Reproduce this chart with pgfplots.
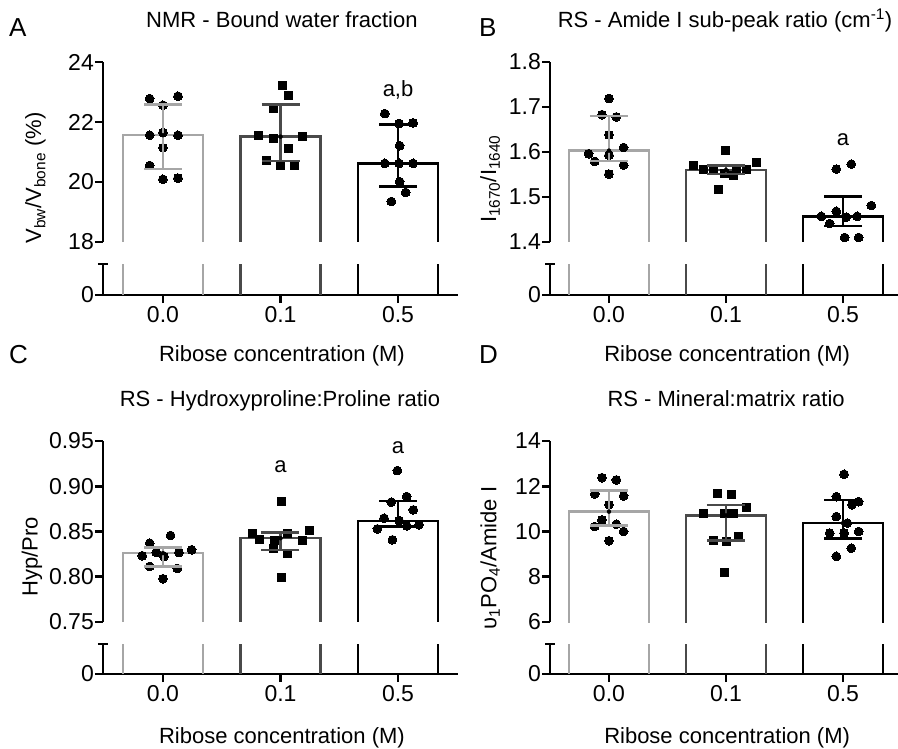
\documentclass[border=0pt]{standalone}
\usepackage{fontspec}
\setmainfont{Liberation Sans}
\usepackage{pgfplots}
\pgfplotsset{compat=1.18}

\definecolor{gA}{HTML}{A6A6A6}
\definecolor{gB}{HTML}{4A4A4A}
\definecolor{gC}{HTML}{000000}

\newcommand\lab{\fontsize{22}{26}\selectfont}
\newcommand\tlab{\fontsize{23}{26}\selectfont}

\pgfplotsset{
  common/.style={scale only axis, anchor=south west, clip mode=individual,
    /pgf/number format/assume math mode=true,
    axis line style={line width=2.6pt, black},
    tick style={line width=2.6pt, black},
    major tick length=8pt, tick align=outside,
    ticklabel style={font=\tlab},
    yticklabel style={inner xsep=1pt},
    label style={font=\lab},
    title style={font=\lab}},
  upper/.style={common, axis x line=none, axis y line*=left, xtick=\empty},
  lower/.style={common, axis x line*=bottom, axis y line*=left, ymin=0,
    ytick={0}, yticklabels={0}, xtick={0,1,2}, xticklabels={0.0,0.1,0.5},
    extra y tick labels={},
    extra y tick style={tick align=center, major tick length=10pt}},
  mybar/.style={draw=#1, line width=2.5pt, mark=none, line join=miter, forget plot},
  mypc/.style={only marks, mark=*, mark size=4.4pt, black, mark options={fill=black, draw=black, line width=0pt}, forget plot},
  myps/.style={only marks, mark=square*, mark size=4pt, black, mark options={fill=black, draw=black, line width=0pt}, forget plot},
  myeb/.style={only marks, mark=none, forget plot, error bars/.cd, y dir=both, y explicit,
    error bar style={line width=2.5pt, draw=#1},
    error mark options={rotate=90, mark size=19pt, line width=2.5pt, draw=#1}},
}

% bar outlines (open at the base, which lies at y = 0)
\newcommand\barsA{%
\addplot[mybar=gA] coordinates {(-0.34,0) (-0.34,21.56) (0.34,21.56) (0.34,0)};
\addplot[mybar=gB] coordinates {(0.66,0) (0.66,21.51) (1.34,21.51) (1.34,0)};
\addplot[mybar=gC] coordinates {(1.66,0) (1.66,20.62) (2.34,20.62) (2.34,0)};}
\newcommand\barsB{%
\addplot[mybar=gA] coordinates {(-0.34,0) (-0.34,1.603) (0.34,1.603) (0.34,0)};
\addplot[mybar=gB] coordinates {(0.66,0) (0.66,1.560) (1.34,1.560) (1.34,0)};
\addplot[mybar=gC] coordinates {(1.66,0) (1.66,1.457) (2.34,1.457) (2.34,0)};}
\newcommand\barsC{%
\addplot[mybar=gA] coordinates {(-0.34,0) (-0.34,0.8261) (0.34,0.8261) (0.34,0)};
\addplot[mybar=gB] coordinates {(0.66,0) (0.66,0.8426) (1.34,0.8426) (1.34,0)};
\addplot[mybar=gC] coordinates {(1.66,0) (1.66,0.8618) (2.34,0.8618) (2.34,0)};}
\newcommand\barsD{%
\addplot[mybar=gA] coordinates {(-0.34,0) (-0.34,10.88) (0.34,10.88) (0.34,0)};
\addplot[mybar=gB] coordinates {(0.66,0) (0.66,10.71) (1.34,10.71) (1.34,0)};
\addplot[mybar=gC] coordinates {(1.66,0) (1.66,10.37) (2.34,10.37) (2.34,0)};}

\begin{document}
\begin{tikzpicture}
\path[use as bounding box] (0pt,0pt) rectangle (898pt,-749pt);

\node[anchor=base west, inner sep=0pt, font=\fontsize{26}{28}\selectfont] at (9pt,-37pt) {A};
\node[anchor=base west, inner sep=0pt, font=\fontsize{26}{28}\selectfont] at (479pt,-37pt) {B};
\node[anchor=base west, inner sep=0pt, font=\fontsize{26}{28}\selectfont] at (9pt,-363pt) {C};
\node[anchor=base west, inner sep=0pt, font=\fontsize{26}{28}\selectfont] at (479pt,-363pt) {D};

% ---------------- Panel A ----------------
\begin{axis}[upper, at={(103pt,-242pt)}, width=355pt, height=180pt,
  xmin=-0.51, xmax=2.51, ymin=18, ymax=24,
  ytick={18,20,22,24}, yticklabels={18,20,22,24},
  ylabel={V\textsubscript{bw}/V\textsubscript{bone} (\%)},
  ylabel style={at={(axis description cs:-0.19,0.356)}, anchor=center},
  title={NMR - Bound water fraction},
  title style={at={(axis description cs:0.504,1.161)}, anchor=base}]
\barsA
\addplot[mypc] coordinates {(-0.113,22.78) (0.128,22.86) (0,22.56) (-0.113,21.56) (0,21.65) (0.128,21.56) (0,21.14) (-0.113,20.55) (0,20.09) (0.128,20.13)};
\addplot[myps] coordinates {(1.014,23.20) (1.071,22.87) (0.94,22.45) (0.816,21.56) (0.94,21.45) (1.184,21.53) (1.065,21.10) (0.878,20.73) (1.0,20.55) (1.119,20.55)};
\addplot[mypc] coordinates {(1.887,22.28) (2.009,21.95) (2.128,21.97) (2.014,21.21) (1.887,20.62) (2.009,20.62) (2.128,20.62) (2.014,20.01) (2.065,19.65) (1.943,19.35)};
\addplot[myeb=gA] coordinates {(0,21.56) += (0,1.02) -= (0,1.12)};
\addplot[myeb=gB] coordinates {(1,21.51) += (0,1.07) -= (0,0.81)};
\addplot[myeb=gC] coordinates {(2,20.62) += (0,1.30) -= (0,0.77)};
\node[anchor=base, font=\lab] at (axis cs:2,22.84) {a,b};
\end{axis}
\begin{axis}[lower, at={(103pt,-295pt)}, width=355pt, height=31pt,
  xmin=-0.51, xmax=2.51, ymax=2, extra y ticks={2},
  xlabel={Ribose concentration (M)},
  xlabel style={at={(axis description cs:0.504,-2.13)}, anchor=base}]
\barsA
\end{axis}

% ---------------- Panel B ----------------
\begin{axis}[upper, at={(550pt,-242pt)}, width=348pt, height=180pt,
  xmin=-0.504, xmax=2.47, ymin=1.4, ymax=1.8,
  ytick={1.4,1.5,1.6,1.7,1.8}, yticklabels={1.4,1.5,1.6,1.7,1.8},
  ylabel={I\textsubscript{1670}/I\textsubscript{1640}},
  ylabel style={at={(axis description cs:-0.172,0.35)}, anchor=center},
  title={RS - Amide I sub-peak ratio (cm\textsuperscript{-1})},
  title style={at={(axis description cs:0.503,1.161)}, anchor=base}]
\barsB
\addplot[mypc] coordinates {(0,1.719) (-0.06,1.683) (0.063,1.678) (0,1.638) (-0.174,1.596) (-0.122,1.579) (0,1.593) (0.125,1.610) (0.125,1.571) (0,1.551)};
\addplot[myps] coordinates {(1,1.603) (0.721,1.570) (1.262,1.577) (0.806,1.560) (0.892,1.560) (0.991,1.553) (1.063,1.547) (1.177,1.560) (0.934,1.516) (1.091,1.564)};
\addplot[mypc] coordinates {(1.943,1.562) (2.071,1.573) (2.242,1.481) (1.815,1.457) (1.943,1.468) (2.028,1.455) (2.122,1.457) (1.886,1.441) (2.014,1.410) (2.134,1.410)};
\addplot[myeb=gA] coordinates {(0,1.603) += (0,0.077) -= (0,0.023)};
\addplot[myeb=gB] coordinates {(1,1.560) += (0,0.010) -= (0,0.009)};
\addplot[myeb=gC] coordinates {(2,1.457) += (0,0.044) -= (0,0.022)};
\node[anchor=base, font=\lab] at (axis cs:2,1.614) {a};
\end{axis}
\begin{axis}[lower, at={(550pt,-295pt)}, width=348pt, height=31pt,
  xmin=-0.504, xmax=2.47, ymax=0.2, extra y ticks={0.2},
  xlabel={Ribose concentration (M)},
  xlabel style={at={(axis description cs:0.509,-2.13)}, anchor=base}]
\barsB
\end{axis}

% ---------------- Panel C ----------------
\begin{axis}[upper, at={(103pt,-622pt)}, width=355pt, height=181pt,
  xmin=-0.51, xmax=2.51, ymin=0.75, ymax=0.95,
  ytick={0.75,0.80,0.85,0.90,0.95}, yticklabels={0.75,0.80,0.85,0.90,0.95},
  ylabel={Hyp/Pro},
  ylabel style={at={(axis description cs:-0.2,0.36)}, anchor=center},
  title={RS - Hydroxyproline:Proline ratio},
  title style={at={(axis description cs:0.4986,1.16)}, anchor=base}]
\barsC
\addplot[mypc] coordinates {(0.065,0.8456) (-0.113,0.8371) (0.244,0.8298) (0.136,0.8268) (-0.057,0.8268) (-0.176,0.8232) (0.009,0.8224) (-0.113,0.8114) (0.122,0.8092) (0,0.7978)};
\addplot[myps] coordinates {(1.009,0.8831) (0.765,0.8482) (1.25,0.8511) (0.824,0.8415) (0.952,0.8401) (1.062,0.8482) (1.184,0.8401) (0.943,0.8316) (1.057,0.8254) (1.009,0.7996)};
\addplot[mypc] coordinates {(1.994,0.9173) (2.074,0.8886) (1.943,0.8824) (2.13,0.8739) (1.881,0.8647) (2.009,0.8621) (1.824,0.8529) (2.179,0.8574) (2.074,0.8563) (1.952,0.8408)};
\addplot[myeb=gA] coordinates {(0,0.8261) += (0,0.0063) -= (0,0.0147)};
\addplot[myeb=gB] coordinates {(1,0.8426) += (0,0.0063) -= (0,0.0128)};
\addplot[myeb=gC] coordinates {(2,0.8618) += (0,0.0220) -= (0,0.0063)};
\node[anchor=base, font=\lab] at (axis cs:1,0.9154) {a};
\node[anchor=base, font=\lab] at (axis cs:2,0.9364) {a};
\end{axis}
\begin{axis}[lower, at={(103pt,-674pt)}, width=355pt, height=30pt,
  xmin=-0.51, xmax=2.51, ymax=0.1, extra y ticks={0.1},
  xlabel={Ribose concentration (M)},
  xlabel style={at={(axis description cs:0.504,-2.3)}, anchor=base}]
\barsC
\end{axis}

% ---------------- Panel D ----------------
\begin{axis}[upper, at={(550pt,-622pt)}, width=348pt, height=181pt,
  xmin=-0.504, xmax=2.47, ymin=6, ymax=14,
  ytick={6,8,10,12,14}, yticklabels={6,8,10,12,14},
  ylabel={υ\textsubscript{1}PO\textsubscript{4}/Amide I},
  ylabel style={at={(axis description cs:-0.172,0.354)}, anchor=center},
  title={RS - Mineral:matrix ratio},
  title style={at={(axis description cs:0.506,1.16)}, anchor=base}]
\barsD
\addplot[mypc] coordinates {(-0.06,12.38) (0.063,12.28) (-0.122,11.66) (0.125,11.57) (0,11.18) (-0.06,10.51) (-0.122,10.22) (0.063,10.32) (0.125,10.00) (0,9.59)};
\addplot[myps] coordinates {(0.926,11.69) (1.048,11.62) (1.177,11.07) (0.806,10.78) (0.991,10.78) (1.063,10.78) (1.108,9.78) (0.892,9.60) (1.006,9.56) (0.991,8.19)};
\addplot[mypc] coordinates {(2.009,12.53) (1.943,11.54) (2.134,11.32) (2.077,11.18) (1.943,10.66) (2.037,10.37) (1.886,9.93) (2.009,9.93) (2.134,10.00) (2.071,9.26) (1.943,8.90)};
\addplot[myeb=gA] coordinates {(0,10.88) += (0,0.93) -= (0,0.62)};
\addplot[myeb=gB] coordinates {(1,10.71) += (0,0.47) -= (0,1.11)};
\addplot[myeb=gC] coordinates {(2,10.37) += (0,1.03) -= (0,0.69)};
\end{axis}
\begin{axis}[lower, at={(550pt,-674pt)}, width=348pt, height=30pt,
  xmin=-0.504, xmax=2.47, ymax=2, extra y ticks={2},
  xlabel={Ribose concentration (M)},
  xlabel style={at={(axis description cs:0.509,-2.3)}, anchor=base}]
\barsD
\end{axis}
\end{tikzpicture}
\end{document}
